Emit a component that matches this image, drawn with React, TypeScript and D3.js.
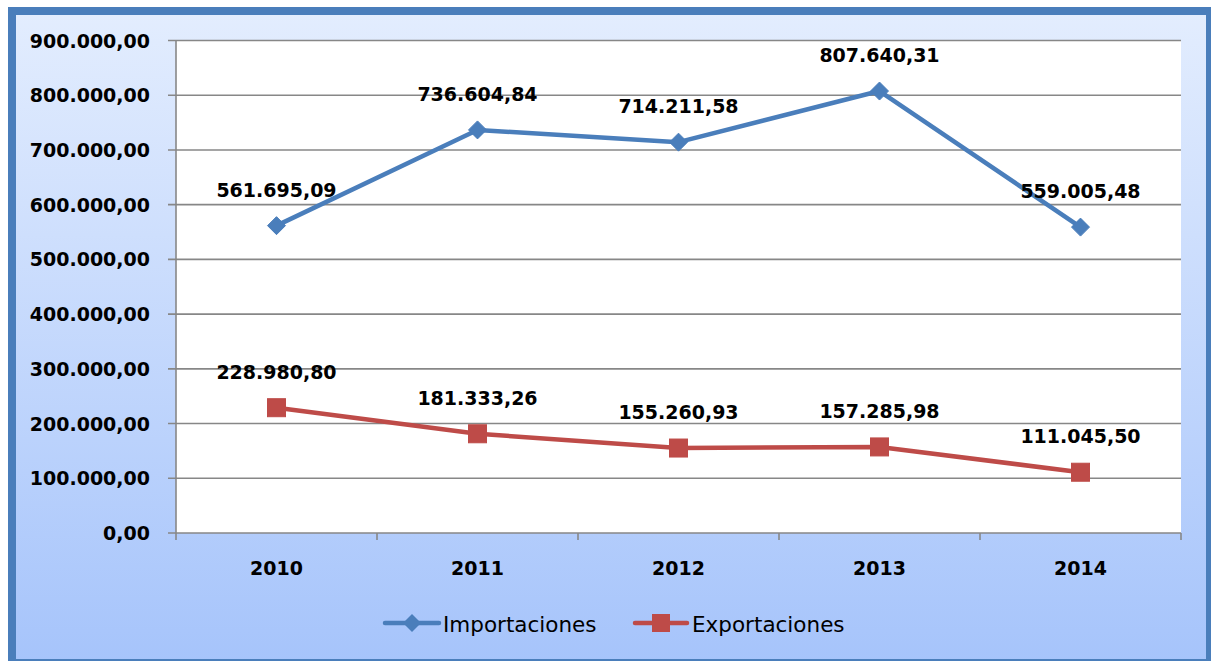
import React from "react";
import * as d3 from "d3";

const years = ["2010", "2011", "2012", "2013", "2014"];
const importaciones = [561695.09, 736604.84, 714211.58, 807640.31, 559005.48];
const exportaciones = [228980.8, 181333.26, 155260.93, 157285.98, 111045.5];
const importLabels = ["561.695,09", "736.604,84", "714.211,58", "807.640,31", "559.005,48"];
const exportLabels = ["228.980,80", "181.333,26", "155.260,93", "157.285,98", "111.045,50"];
const yTicks = [0, 100000, 200000, 300000, 400000, 500000, 600000, 700000, 800000, 900000];
const yTickLabels = ["0,00", "100.000,00", "200.000,00", "300.000,00", "400.000,00", "500.000,00", "600.000,00", "700.000,00", "800.000,00", "900.000,00"];
const seriesNames = ["Importaciones", "Exportaciones"];

const W = 1211;
const H = 661;
const plot = { left: 176, right: 1181, top: 40.5, bottom: 533 };
const BLUE = "#4A7EBB";
const RED = "#BE4B48";
const FONT = "'DejaVu Sans', sans-serif";

export default function App() {
  const x = d3.scaleBand<string>().domain(years).range([plot.left, plot.right]);
  const y = d3.scaleLinear().domain([0, 900000]).range([plot.bottom, plot.top]);
  const cx = (yr: string) => (x(yr) as number) + x.bandwidth() / 2;

  const line = d3
    .line<number>()
    .x((_, i) => cx(years[i]))
    .y((v) => y(v));

  const diamond = (px: number, py: number, r: number) =>
    `M${px},${py - r}L${px + r},${py}L${px},${py + r}L${px - r},${py}Z`;

  const boundaries = [...years.map((yr) => x(yr) as number), plot.right];

  return (
    <svg
      width={W}
      height={H}
      style={{ position: "absolute", left: 0, top: 0, display: "block" }}
      fontFamily={FONT}
    >
      <defs>
        <linearGradient id="bg" x1="0" y1="0" x2="0" y2="1">
          <stop offset="0" stopColor="#E3EDFE" />
          <stop offset="1" stopColor="#A6C4FB" />
        </linearGradient>
      </defs>
      <rect x={0} y={0} width={W} height={H} fill="#ffffff" />
      <rect x={12} y={11} width={1198} height={652} fill="url(#bg)" stroke={BLUE} strokeWidth={8} />
      <rect
        x={plot.left}
        y={plot.top}
        width={plot.right - plot.left}
        height={plot.bottom - plot.top}
        fill="#ffffff"
      />
      {/* gridlines */}
      {yTicks.map((t) => (
        <line
          key={t}
          x1={168}
          x2={plot.right}
          y1={y(t)}
          y2={y(t)}
          stroke="#878787"
          strokeWidth={1.6}
        />
      ))}
      {/* axes */}
      <line x1={plot.left} x2={plot.left} y1={plot.top} y2={plot.bottom} stroke="#878787" strokeWidth={1.6} />
      {boundaries.map((bx, i) => (
        <line key={i} x1={bx} x2={bx} y1={plot.bottom} y2={plot.bottom + 7} stroke="#878787" strokeWidth={1.6} />
      ))}
      {/* y tick labels */}
      {yTicks.map((t, i) => (
        <text
          key={t}
          x={150}
          y={y(t) + 7}
          textAnchor="end"
          fontSize={19}
          fontWeight="bold"
          fill="#000"
        >
          {yTickLabels[i]}
        </text>
      ))}
      {/* x tick labels */}
      {years.map((yr) => (
        <text key={yr} x={cx(yr)} y={575} textAnchor="middle" fontSize={19} fontWeight="bold" fill="#000">
          {yr}
        </text>
      ))}
      {/* lines */}
      <path d={line(importaciones) || ""} fill="none" stroke={BLUE} strokeWidth={4.5} strokeLinejoin="round" />
      <path d={line(exportaciones) || ""} fill="none" stroke={RED} strokeWidth={4.5} strokeLinejoin="round" />
      {importaciones.map((v, i) => (
        <path key={i} d={diamond(cx(years[i]), y(v), 9)} fill={BLUE} stroke={BLUE} strokeWidth={1} />
      ))}
      {exportaciones.map((v, i) => (
        <rect key={i} x={cx(years[i]) - 9} y={y(v) - 9} width={18} height={18} fill={RED} stroke={RED} strokeWidth={1} />
      ))}
      {/* data labels */}
      {importaciones.map((v, i) => (
        <text key={i} x={cx(years[i])} y={y(v) - 29} textAnchor="middle" fontSize={19} fontWeight="bold" fill="#000">
          {importLabels[i]}
        </text>
      ))}
      {exportaciones.map((v, i) => (
        <text key={i} x={cx(years[i])} y={y(v) - 29} textAnchor="middle" fontSize={19} fontWeight="bold" fill="#000">
          {exportLabels[i]}
        </text>
      ))}
      {/* legend */}
      <g>
        <line x1={385} x2={439} y1={623} y2={623} stroke={BLUE} strokeWidth={4.5} strokeLinecap="round" />
        <path d={diamond(412, 623, 9)} fill={BLUE} />
        <text x={443} y={632} fontSize={21.5} fill="#000">
          {seriesNames[0]}
        </text>
        <line x1={635} x2={687} y1={623} y2={623} stroke={RED} strokeWidth={4.5} strokeLinecap="round" />
        <rect x={652} y={614} width={18} height={18} fill={RED} />
        <text x={692} y={632} fontSize={21.5} fill="#000">
          {seriesNames[1]}
        </text>
      </g>
    </svg>
  );
}
